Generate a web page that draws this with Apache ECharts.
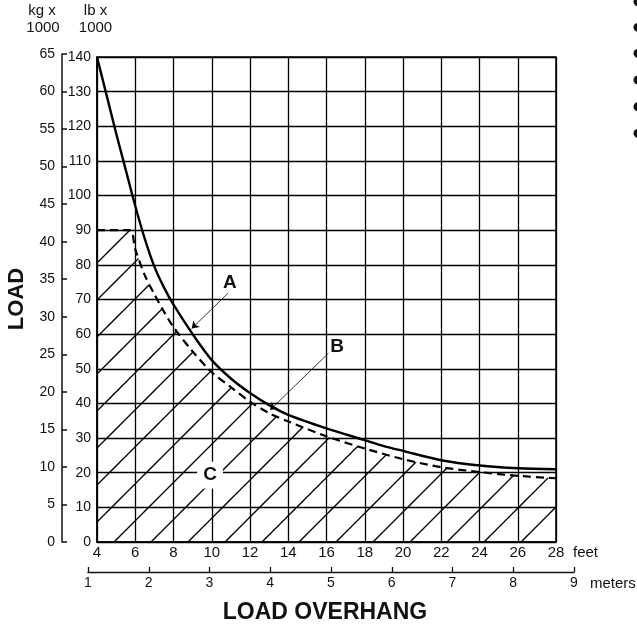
<!DOCTYPE html>
<html><head><meta charset="utf-8">
<script src="https://cdn.jsdelivr.net/npm/echarts@6/dist/echarts.min.js"></script>
<style>html,body{margin:0;padding:0;background:#fff}#c{width:637px;height:627px}</style>
</head><body><div id="c"></div>
<script>
// ---- data (feet vs load in lb x 1000) ----
const curveAFeet = [4, 4.5, 5, 5.5, 6, 6.5, 7, 7.5, 8, 9, 10, 11, 12, 13, 14, 16, 18, 19, 20, 22, 24, 26, 28];
const curveALoad = [140, 129, 118, 107.5, 97, 87.5, 79.5, 73.5, 68.5, 60, 52.5, 47.2, 43, 39.5, 36.7, 32.8, 29.4, 27.7, 26.3, 23.6, 22.1, 21.3, 21];
const curveBFeet = [4, 5.7, 6, 6.5, 7, 7.5, 8, 9, 10, 11, 12, 13, 14, 16, 18, 20, 22, 24, 26, 28];
const curveBLoad = [90, 90, 84.5, 77, 71.5, 66.5, 62, 55, 49, 44.7, 40.5, 37.2, 34.8, 30.5, 27, 23.9, 21.6, 20.2, 19.1, 18.4];
const feetRange = [4, 28];
const lbRange = [0, 140];
const kgRange = [0, 65];
const meterRange = [1, 9];
const labelA = {text: 'A', at: [10.95, 74.7], arrowFrom: [10.85, 71.8], arrowTo: [8.95, 61.6]};
const labelB = {text: 'B', at: [16.55, 56.4], arrowFrom: [16.1, 54.5], arrowTo: [13.05, 38.1]};
const labelC = {text: 'C', at: [9.91, 19.3]};

const NARROW = '"Liberation Sans Narrow", "Arial Narrow", "Liberation Sans", Arial, sans-serif';
const SANS = '"Liberation Sans", Arial, Helvetica, sans-serif';

function hatchPattern() {
  const s = 37, c = document.createElement('canvas');
  c.width = s; c.height = s;
  const g = c.getContext('2d');
  g.strokeStyle = '#000'; g.lineWidth = 1.3;
  [27 - 37, 27, 27 + 37].forEach(k => {
    g.beginPath(); g.moveTo(k + 10, -10); g.lineTo(k - 60, 60); g.stroke();
  });
  return c;
}

const zip = (xs, ys) => xs.map((x, i) => [x, ys[i]]);
const chart = echarts.init(document.getElementById('c'), null, {renderer: 'canvas'});

const txt = (text, x, y, font, align) => ({
  type: 'text', x: x, y: y, silent: true,
  style: {text: text, fill: '#111', font: font, textAlign: align || 'center', textVerticalAlign: 'middle'}
});

const mpLabel = (l, bg) => ({
  coord: l.at, value: l.text,
  label: Object.assign({show: true, position: 'inside', formatter: l.text, color: '#111',
    fontWeight: 'bold', fontSize: 19, fontFamily: SANS}, bg ? {backgroundColor: '#fff', padding: [4, 6]} : {})
});

chart.setOption({
  animation: false,
  backgroundColor: '#fff',
  grid: [
    {left: 97, right: 81, top: 57, bottom: 85, show: true, borderColor: '#000', borderWidth: 1.5},
    {left: 62, width: 10, top: 54, bottom: 85},
    {left: 88, right: 63, top: 560, bottom: 55}
  ],
  xAxis: [
    {gridIndex: 0, type: 'value', min: feetRange[0], max: feetRange[1], interval: 2,
      axisLine: {show: true, onZero: false, lineStyle: {color: '#000', width: 1.5}},
      axisTick: {show: false},
      axisLabel: {margin: 3, fontSize: 15, fontFamily: NARROW, color: '#111'},
      splitLine: {show: true, lineStyle: {color: '#000', width: 1.3}}},
    {gridIndex: 1, type: 'value', show: false},
    {gridIndex: 2, type: 'value', min: meterRange[0], max: meterRange[1], interval: 1, position: 'bottom',
      axisLine: {show: true, onZero: false, lineStyle: {color: '#111', width: 1.3}},
      axisTick: {show: true, inside: true, length: 5, lineStyle: {color: '#111', width: 1.3}},
      axisLabel: {margin: 4, fontSize: 14, fontFamily: NARROW, color: '#111'},
      splitLine: {show: false}}
  ],
  yAxis: [
    {gridIndex: 0, type: 'value', min: lbRange[0], max: lbRange[1], interval: 10,
      axisLine: {show: true, onZero: false, lineStyle: {color: '#000', width: 1.5}},
      axisTick: {show: false},
      axisLabel: {margin: 6, fontSize: 14, fontFamily: NARROW, color: '#111'},
      splitLine: {show: true, lineStyle: {color: '#000', width: 1.3}}},
    {gridIndex: 1, type: 'value', min: kgRange[0], max: kgRange[1], interval: 5, position: 'left',
      axisLine: {show: true, onZero: false, lineStyle: {color: '#111', width: 1.5}},
      axisTick: {show: true, inside: true, length: 5, lineStyle: {color: '#111', width: 1.5}},
      axisLabel: {margin: 7, fontSize: 14, fontFamily: NARROW, color: '#111'},
      splitLine: {show: false}},
    {gridIndex: 2, type: 'value', show: false}
  ],
  series: [
    {type: 'line', name: 'B', xAxisIndex: 0, yAxisIndex: 0, data: zip(curveBFeet, curveBLoad),
      smooth: 0.3, symbol: 'none', z: 3,
      lineStyle: {color: '#000', width: 2.2, type: [8, 5]},
      areaStyle: {color: {image: hatchPattern(), repeat: 'repeat'}, opacity: 1},
      markPoint: {symbol: 'rect', symbolSize: 1, itemStyle: {color: 'rgba(0,0,0,0)'}, silent: true,
        data: [mpLabel(labelB, false), mpLabel(labelC, true)]},
      markLine: {silent: true, symbol: ['none', 'arrow'], symbolSize: 7,
        lineStyle: {color: '#000', width: 0.8, type: 'solid'}, label: {show: false},
        data: [[{coord: labelB.arrowFrom}, {coord: labelB.arrowTo}]]}},
    {type: 'line', name: 'A', xAxisIndex: 0, yAxisIndex: 0, data: zip(curveAFeet, curveALoad),
      smooth: 0.3, symbol: 'none', z: 4,
      lineStyle: {color: '#000', width: 2.4},
      markPoint: {symbol: 'rect', symbolSize: 1, itemStyle: {color: 'rgba(0,0,0,0)'}, silent: true,
        data: [mpLabel(labelA, false)]},
      markLine: {silent: true, symbol: ['none', 'arrow'], symbolSize: 7,
        lineStyle: {color: '#000', width: 0.8, type: 'solid'}, label: {show: false},
        data: [[{coord: labelA.arrowFrom}, {coord: labelA.arrowTo}]]}}
  ],
  graphic: [
    txt('kg x', 42, 11, '15px ' + SANS),
    txt('1000', 43, 28, '15px ' + SANS),
    txt('lb x', 95.5, 11, '15px ' + SANS),
    txt('1000', 95.5, 28, '15px ' + SANS),
    txt('feet', 573, 553, '15px ' + SANS, 'left'),
    txt('meters', 590, 584, '15px ' + SANS, 'left'),
    txt('LOAD OVERHANG', 325, 613, 'bold 23px ' + SANS),
    Object.assign(txt('LOAD', 17, 299, 'bold 22px ' + SANS), {rotation: Math.PI / 2}),
    ...[1.7, 27.3, 53.3, 80, 106.7, 133.3].map(y => ({type: 'circle', silent: true,
      shape: {cx: 638, cy: y, r: 4.5}, style: {fill: '#111'}}))
  ]
});
</script>
</body></html>
